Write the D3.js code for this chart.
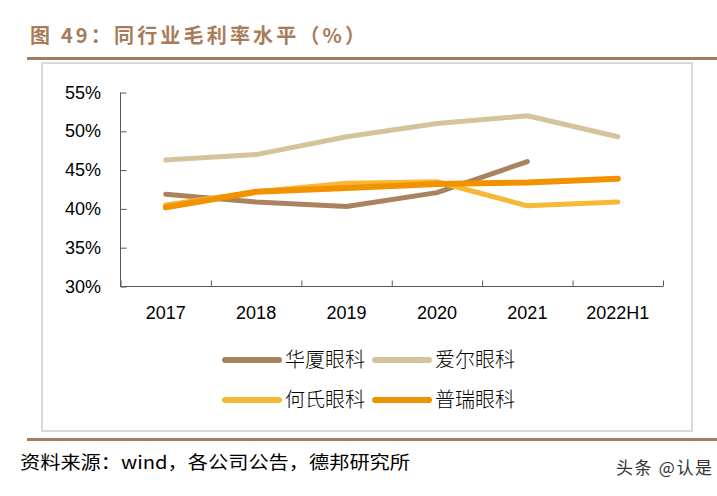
<!DOCTYPE html>
<html><head><meta charset="utf-8">
<script src="https://cdn.jsdelivr.net/npm/d3@7/dist/d3.min.js"></script>
<style>body{margin:0;background:#fff}svg{display:block}</style>
</head><body>
<script>
const categories = ["2017","2018","2019","2020","2021","2022H1"];
const seriesNames = ["华厦眼科","爱尔眼科","何氏眼科","普瑞眼科"];
const huaxia = [41.9, 40.9, 40.3, 42.1, 46.1, null];
const aier = [46.3, 47.0, 49.3, 51.0, 52.0, 49.3];
const heshi = [40.5, 42.2, 43.3, 43.5, 40.4, 40.9];
const purui = [40.2, 42.2, 42.7, 43.2, 43.4, 43.9];
const yTicks = [30, 35, 40, 45, 50, 55];
const colors = ["#a8835d", "#d5c39c", "#f6b936", "#f39200"];
const widths = [5, 5, 5, 6];
const seriesData = [huaxia, aier, heshi, purui];

const W = 717, H = 496;
const svg = d3.select("body").append("svg").attr("width", W).attr("height", H);
const brown = "#a67c5b";

svg.append("text").attr("x", 30).attr("y", 43)
  .attr("font-family", "'Noto Sans CJK SC', sans-serif").attr("font-weight", "bold")
  .attr("font-size", 20).attr("fill", brown)
  .attr("textLength", 335).attr("lengthAdjust", "spacing")
  .text("图 49：同行业毛利率水平（%）");
svg.append("rect").attr("x", 27).attr("y", 57).attr("width", 690).attr("height", 3).attr("fill", brown);
svg.append("rect").attr("x", 42).attr("y", 63).attr("width", 650).attr("height", 368)
  .attr("fill", "none").attr("stroke", "#d9d9d9").attr("stroke-width", 2);
svg.append("rect").attr("x", 27).attr("y", 438).attr("width", 690).attr("height", 3).attr("fill", brown);

const x = d3.scaleBand().domain(categories).range([120.5, 663]);
const y = d3.scaleLinear().domain([30, 55]).range([286.5, 92.5]);

const axisColor = "#595959";
const g = svg.append("g");
const yAxis = d3.axisRight(y).tickValues(yTicks).tickSize(6).tickFormat("");
g.append("g").attr("transform", "translate(120.5,0)").call(yAxis)
  .call(s => { s.selectAll("path,line").attr("stroke", axisColor); s.select(".domain").attr("d", `M0,${y(55)}V${y(30)}`); });
yTicks.forEach(t => {
  g.append("text").attr("x", 101).attr("y", y(t) + 6).attr("text-anchor", "end")
    .attr("font-family", "'Liberation Sans', Arial, sans-serif").attr("font-size", 18).attr("fill", "#000")
    .text(t + "%");
});
const xAxis = d3.axisTop(d3.scaleLinear().domain([0, 6]).range([120.5, 663]))
  .tickValues([0,1,2,3,4,5,6]).tickSize(6).tickFormat("");
g.append("g").attr("transform", "translate(0,286.5)").call(xAxis)
  .call(s => { s.selectAll("path,line").attr("stroke", axisColor); s.select(".domain").attr("d", "M120.5,0H663"); });
categories.forEach(c => {
  g.append("text").attr("x", x(c) + x.bandwidth() / 2).attr("y", 319).attr("text-anchor", "middle")
    .attr("font-family", "'Liberation Sans', Arial, sans-serif").attr("font-size", 18).attr("fill", "#000")
    .text(c);
});

const line = d3.line().defined(d => d.v != null)
  .x(d => x(d.c) + x.bandwidth() / 2).y(d => y(d.v));
seriesData.forEach((arr, i) => {
  svg.append("path").datum(categories.map((c, j) => ({c, v: arr[j]})))
    .attr("d", line).attr("fill", "none").attr("stroke", colors[i])
    .attr("stroke-width", widths[i]).attr("stroke-linecap", "round").attr("stroke-linejoin", "round");
});

const legendPos = [[223, 360], [373, 360], [223, 400], [373, 400]];
seriesNames.forEach((n, i) => {
  const [lx, ly] = legendPos[i];
  svg.append("line").attr("x1", lx + 2).attr("x2", lx + 56).attr("y1", ly).attr("y2", ly)
    .attr("stroke", colors[i]).attr("stroke-width", 6).attr("stroke-linecap", "round");
  svg.append("text").attr("x", lx + 62).attr("y", ly + 7)
    .attr("font-family", "'Noto Sans CJK SC', sans-serif").attr("font-size", 20).attr("fill", "#000")
    .attr("font-weight", 300)
    .text(n);
});

svg.append("text").attr("x", 20).attr("y", 469)
  .attr("font-family", "'Noto Sans CJK SC', sans-serif").attr("font-size", 18).attr("fill", "#000")
  .attr("textLength", 390).attr("lengthAdjust", "spacingAndGlyphs")
  .text("资料来源：wind，各公司公告，德邦研究所");
svg.append("text").attr("x", 712).attr("y", 474).attr("text-anchor", "end")
  .attr("font-family", "'Noto Sans CJK SC', sans-serif").attr("font-size", 17).attr("fill", "#333")
  .attr("textLength", 96).attr("lengthAdjust", "spacing")
  .text("头条 @认是");
</script>
</body></html>
